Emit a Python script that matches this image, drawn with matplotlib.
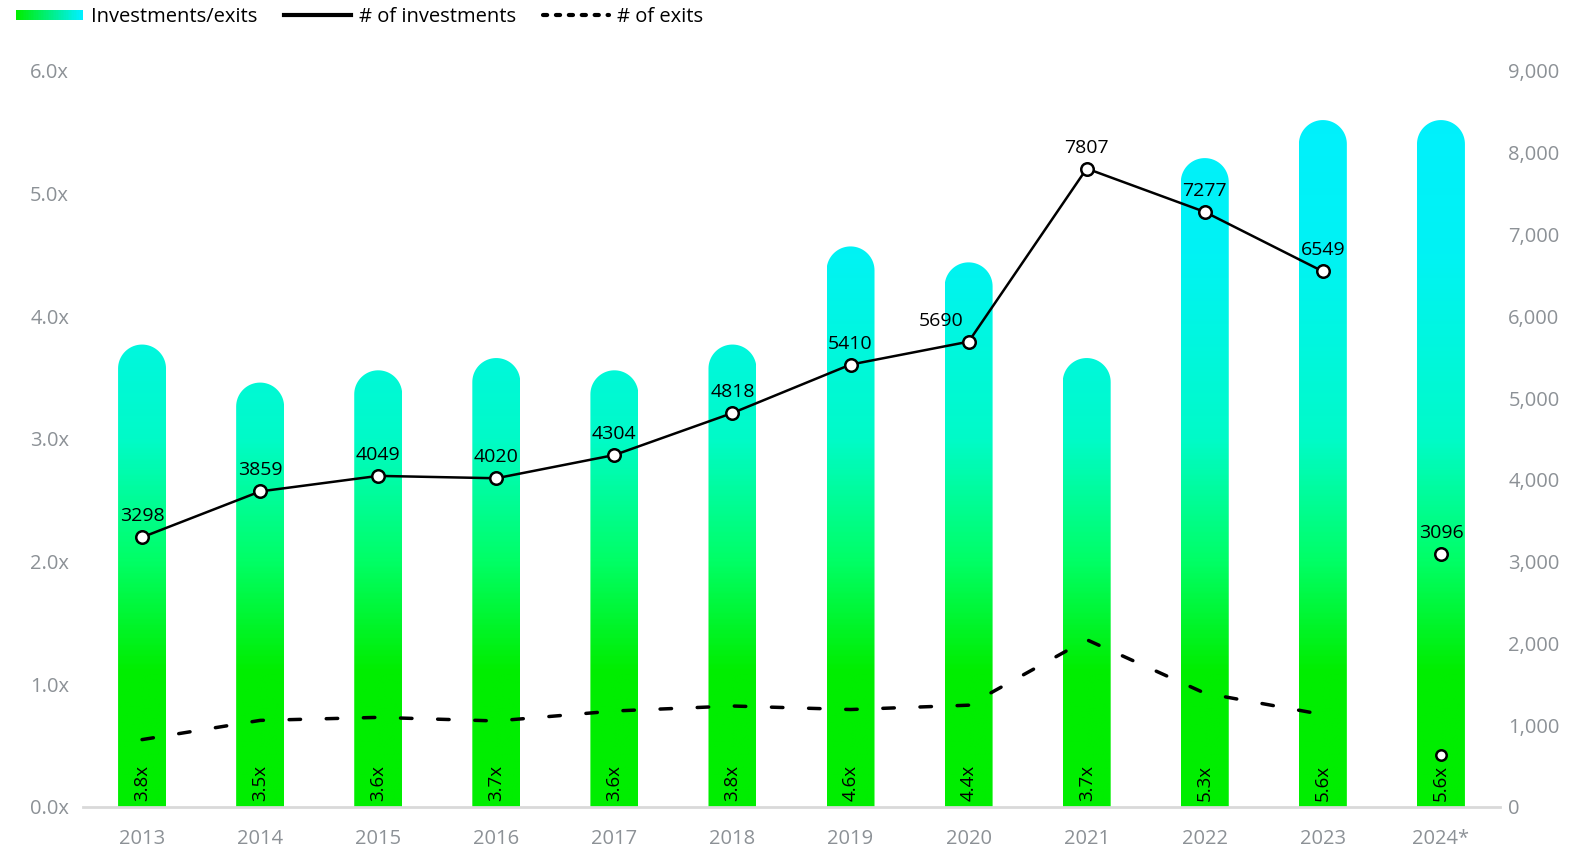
import numpy as np
import matplotlib
matplotlib.use("Agg")
import matplotlib.pyplot as plt
from matplotlib.colors import LinearSegmentedColormap
from matplotlib.patches import PathPatch, Rectangle
from matplotlib.path import Path
from matplotlib.lines import Line2D
from matplotlib.legend_handler import HandlerBase
from matplotlib.ticker import FuncFormatter

plt.rcParams['font.family'] = ['Open Sans', 'DejaVu Sans']

years = ["2013", "2014", "2015", "2016", "2017", "2018", "2019", "2020",
         "2021", "2022", "2023", "2024*"]
ratio = [3.77, 3.46, 3.56, 3.66, 3.56, 3.77, 4.57, 4.44, 3.66, 5.29, 5.60, 5.60]
investments = [3298, 3859, 4049, 4020, 4304, 4818, 5410, 5690, 7807, 7277, 6549]
exits = [824, 1059, 1096, 1052, 1174, 1235, 1192, 1245, 2046, 1392, 1130]
inv_2024 = 3096
exits_2024 = 635

gray = "#8c9196"
grad = LinearSegmentedColormap.from_list("g", [
    (0.0, "#00ee00"), (1.1 / 6, "#00ee00"), (2.0 / 6, "#00ff66"),
    (3.0 / 6, "#00fbc8"), (4.5 / 6, "#00f3f4"), (1.0, "#00f0ff")])

fig = plt.figure(figsize=(15.82, 8.49), dpi=100)
ax = fig.add_axes([83 / 1582, 1 - 807 / 849, 1417 / 1582, 736 / 849])
ax.set_xlim(-0.5, 11.5)
ax.set_ylim(0, 6)

x = np.arange(len(years))
bw = 0.406

# rounded-top gradient bars
p0 = ax.transData.transform((0, 0))
p1 = ax.transData.transform((1, 1))
px_x, px_y = p1[0] - p0[0], p1[1] - p0[1]
ry = (bw / 2 * px_x) / px_y
t = np.linspace(np.pi, 0, 40)
img = np.linspace(0, 6, 400).reshape(-1, 1)
for xi, v in zip(x, ratio):
    hw = bw / 2
    pts = [(xi - hw, 0), (xi - hw, v - ry)]
    pts += list(zip(xi + hw * np.cos(t), v - ry + ry * np.sin(t)))
    pts += [(xi + hw, 0), (xi - hw, 0)]
    path = Path(pts, [Path.MOVETO] + [Path.LINETO] * (len(pts) - 2) + [Path.CLOSEPOLY])
    patch = PathPatch(path, facecolor="none", edgecolor="none", transform=ax.transData)
    ax.add_patch(patch)
    im = ax.imshow(img, extent=(xi - hw, xi + hw, 0, 6), origin="lower", aspect="auto",
                   cmap=grad, vmin=0, vmax=6, zorder=1)
    im.set_clip_path(patch)
    ax.annotate(f"{v:.1f}x", (xi, 0), xytext=(0, 4), textcoords="offset points",
                rotation=90, ha="center", va="bottom", fontsize=13.5, color="black", zorder=3)

ax.set_xlim(-0.5, 11.5)
ax.set_ylim(0, 6)
ax.set_xticks(x)
ax.set_xticklabels(years)
ax.set_yticks(np.arange(0, 6.1, 1))
ax.yaxis.set_major_formatter(FuncFormatter(lambda v, p: f"{v:.1f}x"))
ax.tick_params(axis="both", length=0, labelsize=14.5, colors=gray)
ax.tick_params(axis="x", pad=16)
ax.tick_params(axis="y", pad=10)
for s in ["top", "left", "right"]:
    ax.spines[s].set_visible(False)
ax.spines["bottom"].set_color("#d9d9d9")
ax.spines["bottom"].set_linewidth(2)

ax2 = ax.twinx()
ax2.set_ylim(0, 9000)
ax2.set_yticks(np.arange(0, 9001, 1000))
ax2.yaxis.set_major_formatter(FuncFormatter(lambda v, p: f"{int(v):,}"))
ax2.tick_params(axis="y", length=0, labelsize=14.5, colors=gray, pad=6)
for s in ax2.spines.values():
    s.set_visible(False)

xs = x[:len(investments)]
ax2.plot(xs, exits, color="black", lw=2.5, dashes=(3.3, 7.4), dash_capstyle="round", zorder=4)
ax2.plot(xs, investments, color="black", lw=1.8, marker="o", markersize=9,
         markerfacecolor="white", markeredgecolor="black", markeredgewidth=1.8, zorder=5)
ax2.plot([x[-1]], [inv_2024], "o", markersize=9, markerfacecolor="white",
         markeredgecolor="black", markeredgewidth=1.8, zorder=5)
ax2.plot([x[-1]], [exits_2024], "o", markersize=7.5, markerfacecolor="white",
         markeredgecolor="black", markeredgewidth=1.8, zorder=5)

offsets = {7: -19.5}
for i, v in enumerate(investments + [inv_2024]):
    ax2.annotate(str(v), (x[i], v), xytext=(offsets.get(i, 0), 11.5), textcoords="offset points",
                 ha="center", va="baseline", fontsize=14, color="black", zorder=6)


class GradientHandler(HandlerBase):
    def create_artists(self, legend, orig, xd, yd, width, height, fontsize, trans):
        n = 40
        h = 0.5 * fontsize
        y0 = yd + height / 2 - h / 2
        cm = LinearSegmentedColormap.from_list("l", ["#00ee00", "#00f0ff"])
        arts = []
        for k in range(n):
            r = Rectangle((xd + width * k / n, y0), width / n * 1.05, h,
                          facecolor=cm(k / (n - 1)), edgecolor="none", transform=trans)
            arts.append(r)
        return arts


grad_proxy = Rectangle((0, 0), 1, 1)
inv_h = Line2D([], [], color="black", lw=3)
ex_h = Line2D([], [], color="black", lw=3, dashes=(1, 2.1), dash_capstyle="round")
fig.legend([grad_proxy, inv_h, ex_h], ["Investments/exits", "# of investments", "# of exits"],
           handler_map={Rectangle: GradientHandler()}, loc="upper left",
           bbox_to_anchor=(16 / 1582, 1 - 7 / 849), ncol=3, frameon=False,
           fontsize=14.5, handlelength=3.3, handletextpad=0.4, columnspacing=1.35,
           borderpad=0, borderaxespad=0)

fig.savefig("out.png", dpi=100)
